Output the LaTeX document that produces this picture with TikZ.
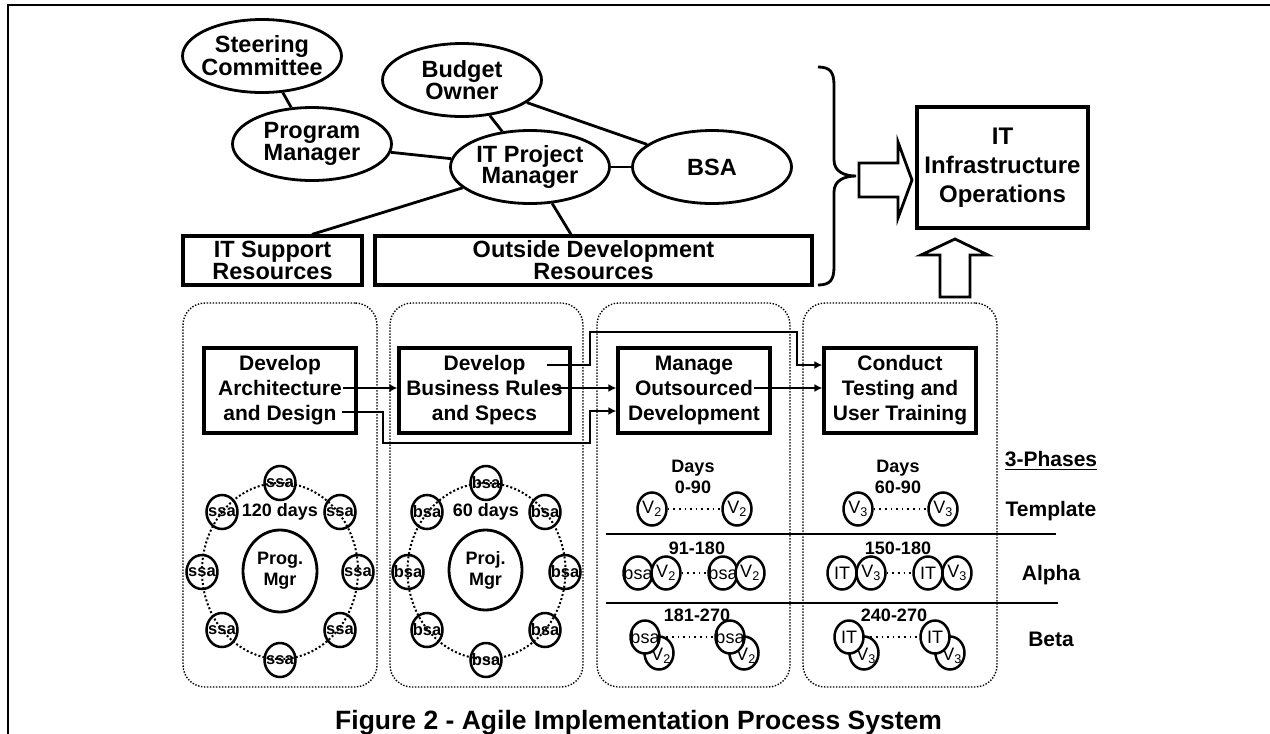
\documentclass[tikz,border=0pt]{standalone}
\usepackage{fontspec}
\setmainfont{Liberation Sans}
\usetikzlibrary{shapes.geometric,arrows.meta}
\newcommand\fsz[2]{\fontsize{#1}{#2}\selectfont}
\begin{document}
\begin{tikzpicture}[x=1pt,y=-1pt,
 every node/.style={inner sep=0pt},
 ell/.style={ellipse,draw,line width=2.8pt,minimum width=159pt,minimum height=73pt},
 big/.style={font=\bfseries\fsz{23.5}{21.5},align=center},
 rbox/.style={draw,line width=3.2pt,minimum height=49pt,font=\bfseries\fsz{23.5}{22},align=center},
 pbox/.style={draw,line width=3.2pt,minimum width=152pt,minimum height=85pt,font=\bfseries\fsz{21}{25},align=center},
 cont/.style={draw,line width=1.4pt,dash pattern=on 1.4pt off 1.6pt,rounded corners=22pt,minimum height=384pt},
 ring/.style={ellipse,draw,line width=2pt,dash pattern=on 2pt off 2.2pt},
 sm/.style={ellipse,draw,line width=2.5pt,minimum width=31pt,minimum height=34pt},
 smt/.style={font=\bfseries\fsz{16.5}{16.5}},
 ph/.style={ellipse,draw,line width=2.5pt,minimum width=29pt,minimum height=33pt,fill=white},
 pht/.style={font=\fsz{18}{18}},
 phl/.style={font=\fsz{18}{18},xshift=2pt,yshift=-3pt},
 flow/.style={line width=2.8pt,-{Latex[length=8pt,width=8pt]}},
 conn/.style={line width=2.8pt},
 dl/.style={line width=1.6pt,dash pattern=on 1.6pt off 4pt},
 hd/.style={font=\bfseries\fsz{18}{21},align=center},
 lab/.style={font=\bfseries\fsz{21}{21}},
 blk/.style={line width=2.8pt,fill=white}
]
\useasboundingbox (0,0) rectangle (1270,734);
% frame
\draw[line width=2.4pt] (8,734) -- (8,5) -- (1270,5);

% top organisation
\node[ell,label={[big]center:{Steering\\Committee}}] (sc) at (262,56) {};
\node[ell,label={[big]center:{Budget\\Owner}}] (bo) at (462,80) {};
\node[ell,label={[big]center:{Program\\Manager}}] (pm) at (312,144) {};
\node[ell,label={[big]center:{IT Project\\Manager}}] (itpm) at (530,167) {};
\node[ell,label={[big]center:BSA}] (bsa) at (712,167) {};
\node[rbox,minimum width=179pt] (its) at (272.5,260.5) {IT Support\\Resources};
\node[rbox,minimum width=437pt] (od) at (593.5,260.5) {Outside Development\\Resources};

\draw[conn] (sc) -- (pm);
\draw[conn] (pm) -- (itpm);
\draw[conn] (bo) -- (itpm);
\draw[conn] (bo) -- (bsa);
\draw[conn] (itpm) -- (bsa);
\draw[conn] (itpm) -- ([xshift=39.5pt]its.north);
\draw[conn] (itpm) -- ([xshift=-22.5pt]od.north);

% brace
\draw[line width=2.8pt] (818,67) .. controls (830,67) and (834,72) .. (834,85) -- (834,160)
  .. controls (834,172) and (845,176) .. (856,176) .. controls (845,176) and (834,180) .. (834,192)
  -- (834,267) .. controls (834,280) and (830,285) .. (818,285);

% block arrows and IT box
\draw[blk] (859,163) -- (898,163) -- (898,142) -- (912,180) -- (898,218) -- (898,197) -- (859,197) -- cycle;
\node[draw,line width=3.2pt,minimum width=171pt,minimum height=121pt,font=\bfseries\fsz{24}{29},align=center] (iti) at (1002.5,167.5) {IT\\Infrastructure\\Operations};
\draw[blk] (940,297) -- (940,255) -- (921,255) -- (955,239) -- (988,255) -- (970,255) -- (970,297) -- cycle;

% containers
\node[cont,minimum width=194pt] (c1) at (280,495) {};
\node[cont,minimum width=193pt] (c2) at (486.5,495) {};
\node[cont,minimum width=193pt] (c3) at (693.5,495) {};
\node[cont,minimum width=194pt] (c4) at (900,495) {};

% process boxes
\node[pbox] (ad) at (280,390.5) {Develop\\Architecture\\and Design};
\node[pbox,minimum width=171pt] (br) at (484.5,390.5) {Develop\\Business Rules\\and Specs};
\node[pbox] (mo) at (694,390.5) {Manage\\Outsourced\\Development};
\node[pbox] (ct) at (900,390.5) {Conduct\\Testing and\\User Training};

\coordinate (f1) at (343,388);
\draw[flow] (f1) -- (f1 -| br.west);
\coordinate (f2) at (342,412);
\draw[flow] (f2) -- (383,412) -- (383,443) -- (590,443) -- (590,411) -- (mo.west |- 0,411);
\coordinate (f3) at (547,365);
\draw[flow] (f3) -- (590,365) -- (590,332) -- (797,332) -- (797,365) -- (ct.west |- 0,365);
\coordinate (f4) at (557,388);
\draw[flow] (f4) -- (f4 -| mo.west);
\coordinate (f5) at (754,388);
\draw[flow] (f5) -- (f5 -| ct.west);

% ring 1
\node[ring,minimum width=156pt,minimum height=176pt] (r1) at (280,571) {};
\foreach \n/\x/\y in {a/280/483, b/340/512, c/358/572, d/340/630, e/280/660, f/222/630, g/202/572, h/222/512}
  \node[sm,label={[smt]center:ssa}] (s\n) at (\x,\y) {};
\node[ellipse,draw,line width=2.8pt,minimum width=74pt,minimum height=82pt,label={[hd]center:{Prog.\\Mgr}}] (pg) at (280,571) {};
\node[hd] (d120) at (280,512) {120 days};

% ring 2
\node[ring,minimum width=158pt,minimum height=176pt] (r2) at (486.5,571) {};
\foreach \n/\x/\y in {a/486/483, b/545/512, c/565/572, d/545/630, e/486/660, f/427/630, g/408/572, h/427/512}
  \node[sm,label={[smt]center:bsa}] (b\n) at (\x,\y) {};
\node[ellipse,draw,line width=2.8pt,minimum width=73pt,minimum height=80pt,label={[hd]center:{Proj.\\Mgr}}] (pj) at (485.5,570) {};
\node[hd] (d60) at (486,512) {60 days};

% separators
\draw[line width=1.1pt] (606,534) -- (1056,534);
\draw[line width=1.1pt] (606,603) -- (1058,603);

% Manage column
\node[hd] (dy1) at (693,477) {Days\\0-90};
\node[ph,label={[pht]center:V\textsubscript{2}}] (t1a) at (652,509) {};
\node[ph,label={[pht]center:V\textsubscript{2}}] (t1b) at (737,509) {};
\draw[dl] (t1a) -- (t1b);
\node[hd] (r91) at (697,548) {91-180};
\node[ph,label={[pht]center:bsa}] (a1a) at (638,573) {};
\node[ph,label={[pht]center:V\textsubscript{2}}] (a1b) at (666,573) {};
\node[ph,label={[pht]center:bsa}] (a1c) at (723,573) {};
\node[ph,label={[pht]center:V\textsubscript{2}}] (a1d) at (750,573) {};
\draw[dl] (a1b) -- (a1c);
\node[hd] (r181) at (697,615) {181-270};
\node[ph,label={[phl]center:V\textsubscript{2}}] (b1b) at (659,653) {};
\node[ph,label={[pht]center:bsa}] (b1a) at (645,637) {};
\node[ph,label={[phl]center:V\textsubscript{2}}] (b1d) at (744,653) {};
\node[ph,label={[pht]center:bsa}] (b1c) at (730,637) {};
\draw[dl] (b1a) -- (b1c);

% Conduct column
\node[hd] (dy2) at (898,477) {Days\\60-90};
\node[ph,label={[pht]center:V\textsubscript{3}}] (t2a) at (858,509) {};
\node[ph,label={[pht]center:V\textsubscript{3}}] (t2b) at (943,509) {};
\draw[dl] (t2a) -- (t2b);
\node[hd] (r150) at (898,548) {150-180};
\node[ph,label={[pht]center:IT}] (a2a) at (842,573) {};
\node[ph,label={[pht]center:V\textsubscript{3}}] (a2b) at (871,573) {};
\node[ph,label={[pht]center:IT}] (a2c) at (928,573) {};
\node[ph,label={[pht]center:V\textsubscript{3}}] (a2d) at (957,573) {};
\draw[dl] (a2b) -- (a2c);
\node[hd] (r240) at (894,615) {240-270};
\node[ph,label={[phl]center:V\textsubscript{3}}] (b2b) at (864,653) {};
\node[ph,label={[pht]center:IT}] (b2a) at (849,637) {};
\node[ph,label={[phl]center:V\textsubscript{3}}] (b2d) at (950,653) {};
\node[ph,label={[pht]center:IT}] (b2c) at (935,637) {};
\draw[dl] (b2a) -- (b2c);

% phase labels
\node[lab] (p0) at (1051,459) {3-Phases};
\draw[line width=1.8pt] ([yshift=-3pt]p0.base west) -- ([yshift=-3pt]p0.base east);
\node[lab] (p1) at (1051,511) {Template};
\node[lab] (p2) at (1051,575) {Alpha};
\node[lab] (p3) at (1051,639) {Beta};

% caption
\node[font=\bfseries\fsz{26.5}{26.5},anchor=base west] (cap) at (335,729) {Figure 2 - Agile Implementation Process System};
\end{tikzpicture}
\end{document}
